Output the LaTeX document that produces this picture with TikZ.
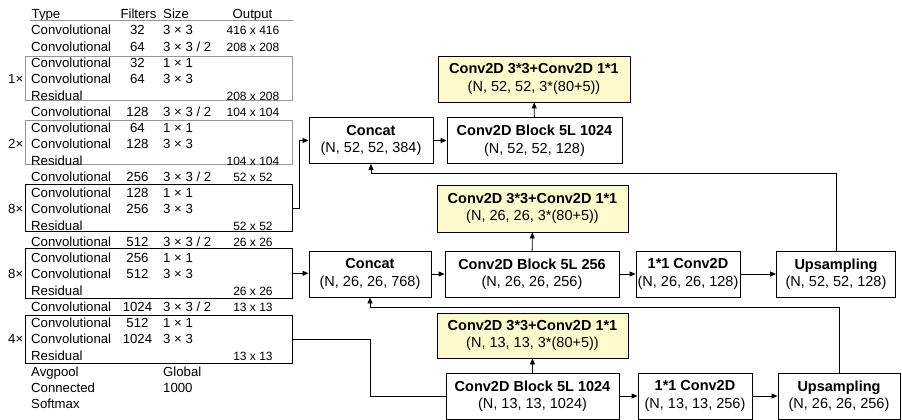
\documentclass[tikz,border=0pt]{standalone}
\usepackage{fontspec}
\setmainfont{Liberation Sans}
\usetikzlibrary{arrows.meta}
\definecolor{boxyellow}{RGB}{255,250,205}
\definecolor{boxgray}{RGB}{150,150,150}
\newcommand\rowy[1]{(14+16.26*#1+4.7)}
\newcommand\trow[4]{%
  \node[tcell,anchor=base west] (ty#1) at (31,{\rowy{#1}}) {#2};
  \node[tcell,anchor=base] (tf#1) at (137.5,{\rowy{#1}}) {#3};
  \node[tcell,anchor=base west] (ts#1) at (163,{\rowy{#1}}) {#4};}
\newcommand\tres[1]{%
  \node[tcell,anchor=base west] (ty#1) at (31,{\rowy{#1}}) {Residual};}
\newcommand\tout[2]{%
  \node[toutcell,anchor=base] (to#1) at (253,{\rowy{#1}}) {#2};}
\newcommand\tmul[2]{%
  \node[tcell,anchor=base east] (m#1) at (23.5,{\rowy{#1}}) {#2};}
\begin{document}
\begin{tikzpicture}[x=1pt,y=-1pt,
  tcell/.style={inner sep=0pt,font=\fontsize{13.2}{15}\selectfont},
  toutcell/.style={inner sep=0pt,font=\fontsize{12}{14}\selectfont},
  tbox/.style={draw,line width=0.9pt,minimum width=267,inner sep=0pt},
  nbox/.style={draw,line width=0.9pt,align=center,inner sep=0pt,
    font=\fontsize{14.5}{17.5}\selectfont,minimum height=46},
  ybox/.style={nbox,fill=boxyellow},
  arr/.style={line width=0.9pt,-{Triangle[length=6pt,width=5pt]}},
  conn/.style={line width=0.9pt}]
\useasboundingbox (0,0) rectangle (902,420);

% ---------- table ----------
\node[tcell,anchor=base west] (hType) at (31.5,{\rowy{0}}) {Type};
\node[tcell,anchor=base] (hFil) at (138.5,{\rowy{0}}) {Filters};
\node[tcell,anchor=base west] (hSize) at (163,{\rowy{0}}) {Size};
\node[tcell,anchor=base] (hOut) at (252.5,{\rowy{0}}) {Output};
\coordinate (hl1) at (30,20.7);
\coordinate (hl2) at (293,20.7);
\draw[boxgray,line width=0.9pt] (hl1) -- (hl2);

\node[tbox,draw=boxgray,minimum height=43.3] (b1) at (158.5,78.35) {};
\node[tbox,draw=boxgray,minimum height=44] (b2) at (158.5,142) {};
\node[tbox,minimum height=47.4] (b8a) at (158.5,208) {};
\node[tbox,minimum height=50] (b8b) at (158.5,273.3) {};
\node[tbox,minimum height=48.3] (b4) at (158.5,339.15) {};

\trow{1}{Convolutional}{32}{3 × 3}
\tout{1}{416 x 416}
\trow{2}{Convolutional}{64}{3 × 3 / 2}
\tout{2}{208 x 208}
\trow{3}{Convolutional}{32}{1 × 1}
\trow{4}{Convolutional}{64}{3 × 3}
\tres{5}
\tout{5}{208 x 208}
\tmul{4}{1×}
\trow{6}{Convolutional}{128}{3 × 3 / 2}
\tout{6}{104 x 104}
\trow{7}{Convolutional}{64}{1 × 1}
\trow{8}{Convolutional}{128}{3 × 3}
\tres{9}
\tout{9}{104 x 104}
\tmul{8}{2×}
\trow{10}{Convolutional}{256}{3 × 3 / 2}
\tout{10}{52 x 52}
\trow{11}{Convolutional}{128}{1 × 1}
\trow{12}{Convolutional}{256}{3 × 3}
\tres{13}
\tout{13}{52 x 52}
\tmul{12}{8×}
\trow{14}{Convolutional}{512}{3 × 3 / 2}
\tout{14}{26 x 26}
\trow{15}{Convolutional}{256}{1 × 1}
\trow{16}{Convolutional}{512}{3 × 3}
\tres{17}
\tout{17}{26 x 26}
\tmul{16}{8×}
\trow{18}{Convolutional}{1024}{3 × 3 / 2}
\tout{18}{13 x 13}
\trow{19}{Convolutional}{512}{1 × 1}
\trow{20}{Convolutional}{1024}{3 × 3}
\tres{21}
\tout{21}{13 x 13}
\tmul{20}{4×}
\node[tcell,anchor=base west] (ty22) at (31,{\rowy{22}}) {Avgpool};
\node[tcell,anchor=base west] (ts22) at (163,{\rowy{22}}) {Global};
\node[tcell,anchor=base west] (ty23) at (31,{\rowy{23}}) {Connected};
\node[tcell,anchor=base west] (ts23) at (163,{\rowy{23}}) {1000};
\node[tcell,anchor=base west] (ty24) at (31,{\rowy{24}}) {Softmax};

% ---------- network nodes ----------
\node[ybox,minimum width=192] (yA) at (534,79) {\textbf{Conv2D 3*3+Conv2D 1*1}\\(N, 52, 52, 3*(80+5))};
\node[nbox,minimum width=124] (cA) at (371,140.5) {\textbf{Concat}\\(N, 52, 52, 384)};
\node[nbox,minimum width=175] (bA) at (534.5,140.5) {\textbf{Conv2D Block 5L 1024}\\(N, 52, 52, 128)};

\node[ybox,minimum width=191,minimum height=47] (yB) at (532.5,208.5) {\textbf{Conv2D 3*3+Conv2D 1*1}\\(N, 26, 26, 3*(80+5))};
\node[nbox,minimum width=122] (cB) at (370,274) {\textbf{Concat}\\(N, 26, 26, 768)};
\node[nbox,minimum width=174] (bB) at (532,274) {\textbf{Conv2D Block 5L 256}\\(N, 26, 26, 256)};
\node[nbox,minimum width=104] (dB) at (688,274) {\textbf{1*1 Conv2D}\\(N, 26, 26, 128)};
\node[nbox,minimum width=119] (uB) at (836,274) {\textbf{Upsampling}\\(N, 52, 52, 128)};

\node[ybox,minimum width=191,minimum height=45] (yC) at (532.5,335.5) {\textbf{Conv2D 3*3+Conv2D 1*1}\\(N, 13, 13, 3*(80+5))};
\node[nbox,minimum width=173] (bC) at (532.5,396) {\textbf{Conv2D Block 5L 1024}\\(N, 13, 13, 1024)};
\node[nbox,minimum width=114] (dC) at (695,396) {\textbf{1*1 Conv2D}\\(N, 13, 13, 256)};
\node[nbox,minimum width=122] (uC) at (839,396) {\textbf{Upsampling}\\(N, 26, 26, 256)};

\coordinate (rA) at (0,173.3);
\coordinate (rB) at (0,307);

% ---------- connectors ----------
\draw[arr] (cA) -- (bA);
\draw[arr] (bA) -- (yA);
\draw[arr] (b8a.east) -- ++(7,0) |- (cA.west);
\draw[arr] (uB.north) |- (cA.south |- rA) -- (cA.south);

\draw[arr] (b8b.east) -- (b8b.east -| cB.west);
\draw[arr] (cB) -- (bB);
\draw[arr] (bB) -- (dB);
\draw[arr] (dB) -- (uB);
\draw[arr] (bB) -- (yB);
\draw[arr] (uC.north) |- (cB.south |- rB) -- (cB.south);

\draw[conn] (b4.east) -- (b4.east -| cB.south) |- (bC.west);
\draw[arr] (bC) -- (dC);
\draw[arr] (dC) -- (uC);
\draw[arr] (bC) -- (yC);
\end{tikzpicture}
\end{document}
